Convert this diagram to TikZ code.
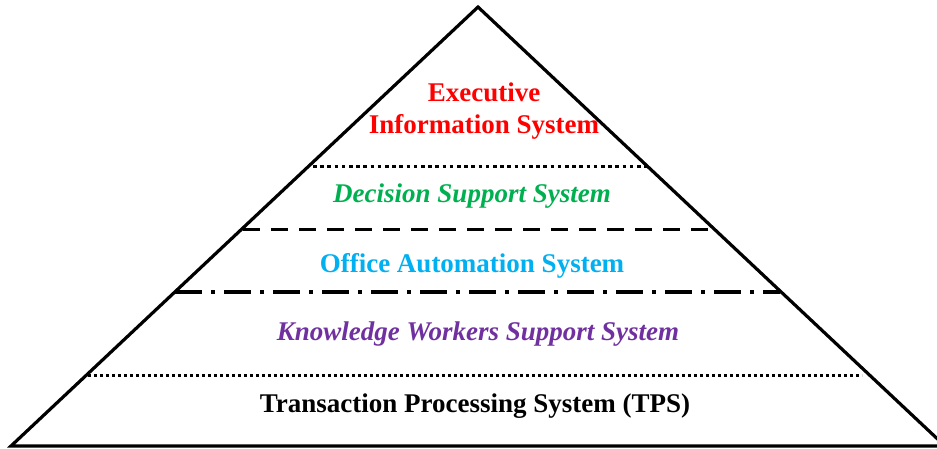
\documentclass[tikz,border=0pt]{standalone}
\usepackage{fontspec}
\setmainfont{Liberation Serif}
\definecolor{eisred}{HTML}{FF0000}
\definecolor{dssgreen}{HTML}{00B050}
\definecolor{oasblue}{HTML}{00B0F0}
\definecolor{kwspurple}{HTML}{7030A0}
\begin{document}
\begin{tikzpicture}[x=1pt, y=-1pt]
% Estilos
\tikzstyle{layer} = [font=\fontsize{27}{32}\selectfont\bfseries, align=center, inner sep=0pt]
\tikzstyle{edge} = [line width=3.2pt, line join=miter]

\useasboundingbox (0,0) rectangle (937,448);
\clip (0,0) rectangle (937,448);

% Piramide
\coordinate (apex) at (478,7);
\coordinate (bl) at (11,446);
\coordinate (br) at (945,446);
\draw[edge] (bl) -- (apex) -- (br) -- cycle;

% Separadores
\draw[line width=3pt, dash pattern=on 3.5pt off 3.7pt] (313,166) -- (650,166);
\draw[line width=3pt, dash pattern=on 17pt off 11pt] (243,229) -- (708,229);
\draw[line width=4pt, dash pattern=on 27pt off 9pt on 4pt off 9pt] (175,292) -- (780,292);
\draw[line width=3pt, dash pattern=on 3pt off 3pt] (88,375) -- (862,375);

% Niveles
\node[layer, text=eisred] (eis) at (484,111) {Executive\\Information System};
\node[layer, text=dssgreen, font=\fontsize{27}{32}\selectfont\bfseries\itshape] (dss) at (472,196) {Decision Support System};
\node[layer, text=oasblue] (oas) at (472,266) {Office Automation System};
\node[layer, text=kwspurple, font=\fontsize{27}{32}\selectfont\bfseries\itshape] (kwss) at (478,334) {Knowledge Workers Support System};
\node[layer] (tps) at (475,406) {Transaction Processing System (TPS)};
\end{tikzpicture}
\end{document}
